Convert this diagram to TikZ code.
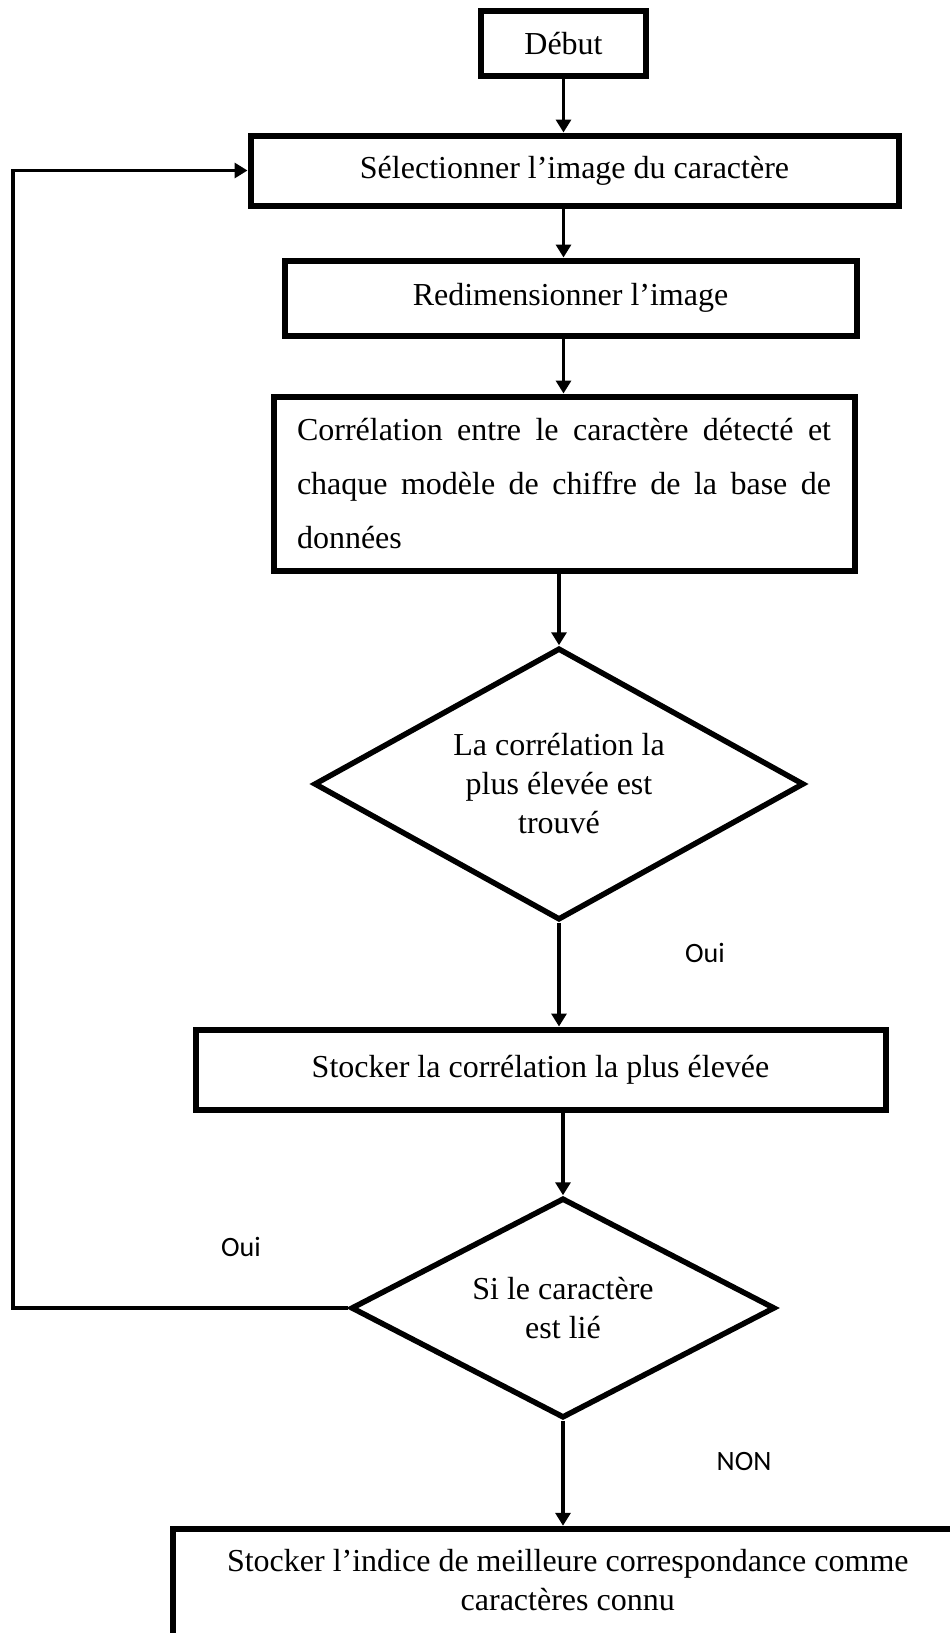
\documentclass[tikz,border=0pt]{standalone}
\usepackage{fontspec}
\setmainfont{Liberation Serif}
\newfontfamily\calibri{Carlito}
\usetikzlibrary{shapes.geometric,arrows.meta}

\begin{document}
\begin{tikzpicture}[x=1pt, y=-1pt,
    boite/.style={draw, line width=6pt, inner sep=0pt, font=\fontsize{32}{39}\selectfont},
    losange/.style={diamond, draw, line width=5.5pt, inner sep=0pt, align=center, font=\fontsize{32}{39}\selectfont},
    fleche/.style={line width=3.5pt, -{Triangle[length=13pt, width=15pt]}},
    etiquette/.style={font=\calibri\fontsize{28}{34}\selectfont}]
    \useasboundingbox (0,0) rectangle (950,1633);
    \clip (0,0) rectangle (950,1633);

    \node[boite, minimum width=165pt, minimum height=65pt] (debut) at (563.5, 43.5) {Début};
    \node[boite, minimum width=648pt, minimum height=70pt] (selec) at (574.5, 170.5) {Sélectionner l’image du caractère};
    \node[boite, minimum width=572pt, minimum height=75pt] (redim) at (570.5, 298) {Redimensionner l’image};
    \node[boite, minimum width=581pt, minimum height=174pt, text width=534pt, align=justify, font=\fontsize{32}{54}\selectfont] (correl) at (564, 483.5) {Corrélation entre le caractère détecté et\linebreak chaque modèle de chiffre de la base de\linebreak données};
    \node[losange, minimum width=490pt, minimum height=272pt, aspect=1.8] (d1) at (559, 784) {La corrélation la\\plus élevée est\\trouvé};
    \node[boite, minimum width=690pt, minimum height=80pt] (stock) at (540.5, 1069.5) {Stocker la corrélation la plus élevée};
    \node[losange, minimum width=424pt, minimum height=220pt, aspect=1.93] (d2) at (563, 1308) {Si le caractère\\est lié};
    \node[boite] (fin) at (567.75, 1583.75) {\parbox[c][110pt][t]{790pt}{\centering\rule{0pt}{43pt}Stocker l’indice de meilleure correspondance comme\\caractères connu}};

    \node[etiquette] (oui1) at (705, 953) {Oui};
    \node[etiquette] (oui2) at (241, 1247) {Oui};
    \node[etiquette] (non) at (744, 1461) {NON};
    \coordinate (retour) at (13, 1308);

    % flèches
    \draw[fleche] (debut.south) -- (debut.south |- selec.north);
    \draw[fleche] (selec.south -| debut.south) -- (redim.north -| debut.south);
    \draw[fleche] (redim.south -| debut.south) -- (correl.north -| debut.south);
    \draw[fleche] (correl.south -| d1.north) -- (d1.north);
    \draw[fleche] (d1.south) -- (d1.south |- stock.north);
    \draw[fleche] (stock.south -| d2.north) -- (d2.north);
    \draw[fleche] (d2.south) -- (d2.south |- fin.north);
    \draw[fleche] (d2.west) -- (retour) |- (selec.west);
\end{tikzpicture}
\end{document}
